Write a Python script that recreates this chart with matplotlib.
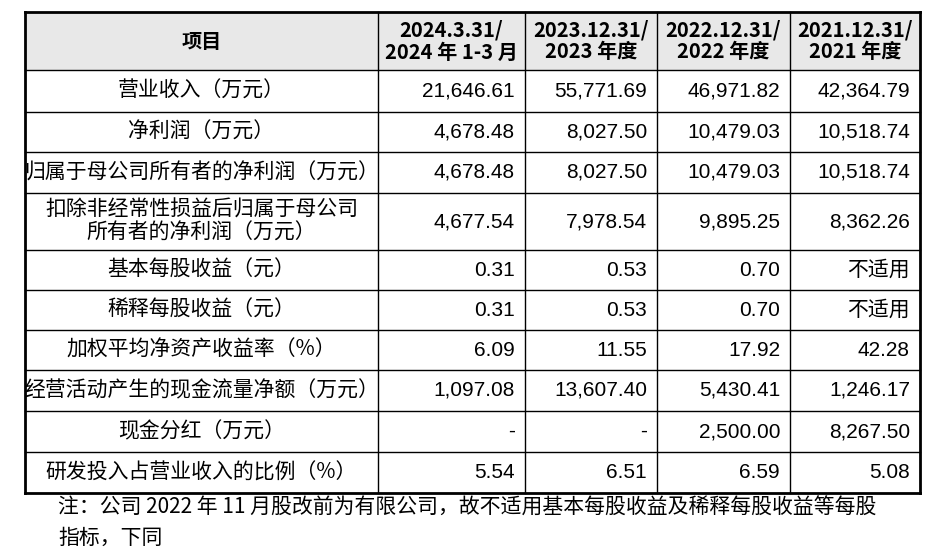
import matplotlib
matplotlib.use("Agg")
import matplotlib.pyplot as plt
from matplotlib.patches import Rectangle

plt.rcParams["font.family"] = ["Noto Sans CJK SC"]

headers = ["项目", "2024.3.31/\n2024 年 1-3 月", "2023.12.31/\n2023 年度", "2022.12.31/\n2022 年度", "2021.12.31/\n2021 年度"]
items = ["营业收入（万元）", "净利润（万元）", "归属于母公司所有者的净利润（万元）",
         "扣除非经常性损益后归属于母公司\n所有者的净利润（万元）", "基本每股收益（元）", "稀释每股收益（元）",
         "加权平均净资产收益率（%）", "经营活动产生的现金流量净额（万元）", "现金分红（万元）",
         "研发投入占营业收入的比例（%）"]
col_2024q1 = ["21,646.61", "4,678.48", "4,678.48", "4,677.54", "0.31", "0.31", "6.09", "1,097.08", "-", "5.54"]
col_2023 = ["55,771.69", "8,027.50", "8,027.50", "7,978.54", "0.53", "0.53", "11.55", "13,607.40", "-", "6.51"]
col_2022 = ["46,971.82", "10,479.03", "10,479.03", "9,895.25", "0.70", "0.70", "17.92", "5,430.41", "2,500.00", "6.59"]
col_2021 = ["42,364.79", "10,518.74", "10,518.74", "8,362.26", "不适用", "不适用", "42.28", "1,246.17", "8,267.50", "5.08"]
note = "注：公司 2022 年 11 月股改前为有限公司，故不适用基本每股收益及稀释每股收益等每股\n指标，下同"

fig = plt.figure(figsize=(9.31, 5.58), dpi=100)
ax = fig.add_axes([0, 0, 1, 1])
ax.set_xlim(0, 931); ax.set_ylim(558, 0); ax.axis("off")

xs = [25, 378, 525, 657, 790, 920]
ys = [12, 70, 112, 152, 193, 250, 290, 330, 370, 411, 452, 493]

ax.add_patch(Rectangle((xs[0], ys[0]), xs[-1]-xs[0], ys[1]-ys[0], facecolor="#e8e8e8", edgecolor="none"))
for y in ys:
    lw = 2 if y in (ys[0], ys[-1]) else 1
    ax.plot([xs[0], xs[-1]], [y, y], color="black", lw=lw)
for x in xs:
    lw = 2 if x in (xs[0], xs[-1]) else 1
    ax.plot([x, x], [ys[0], ys[-1]], color="black", lw=lw)

fs = 15
for j, h in enumerate(headers):
    ax.text((xs[j]+xs[j+1])/2, (ys[0]+ys[1])/2, h, ha="center", va="center", fontsize=14.5,
            fontweight="bold", linespacing=1.05)
cols = [col_2024q1, col_2023, col_2022, col_2021]
for i, it in enumerate(items):
    yc = (ys[i+1]+ys[i+2])/2
    ax.text((xs[0]+xs[1])/2, yc, it, ha="center", va="center", fontsize=fs, linespacing=1.05)
    for j, c in enumerate(cols):
        ax.text(xs[j+2]-10, yc, c[i], ha="right", va="center", fontsize=fs,
                family=["Noto Sans CJK SC"] if c[i] == "不适用" else ["Liberation Sans"])
ax.text(58, 497, note, ha="left", va="top", fontsize=fs, linespacing=1.45)
fig.savefig("out.png", dpi=100)
